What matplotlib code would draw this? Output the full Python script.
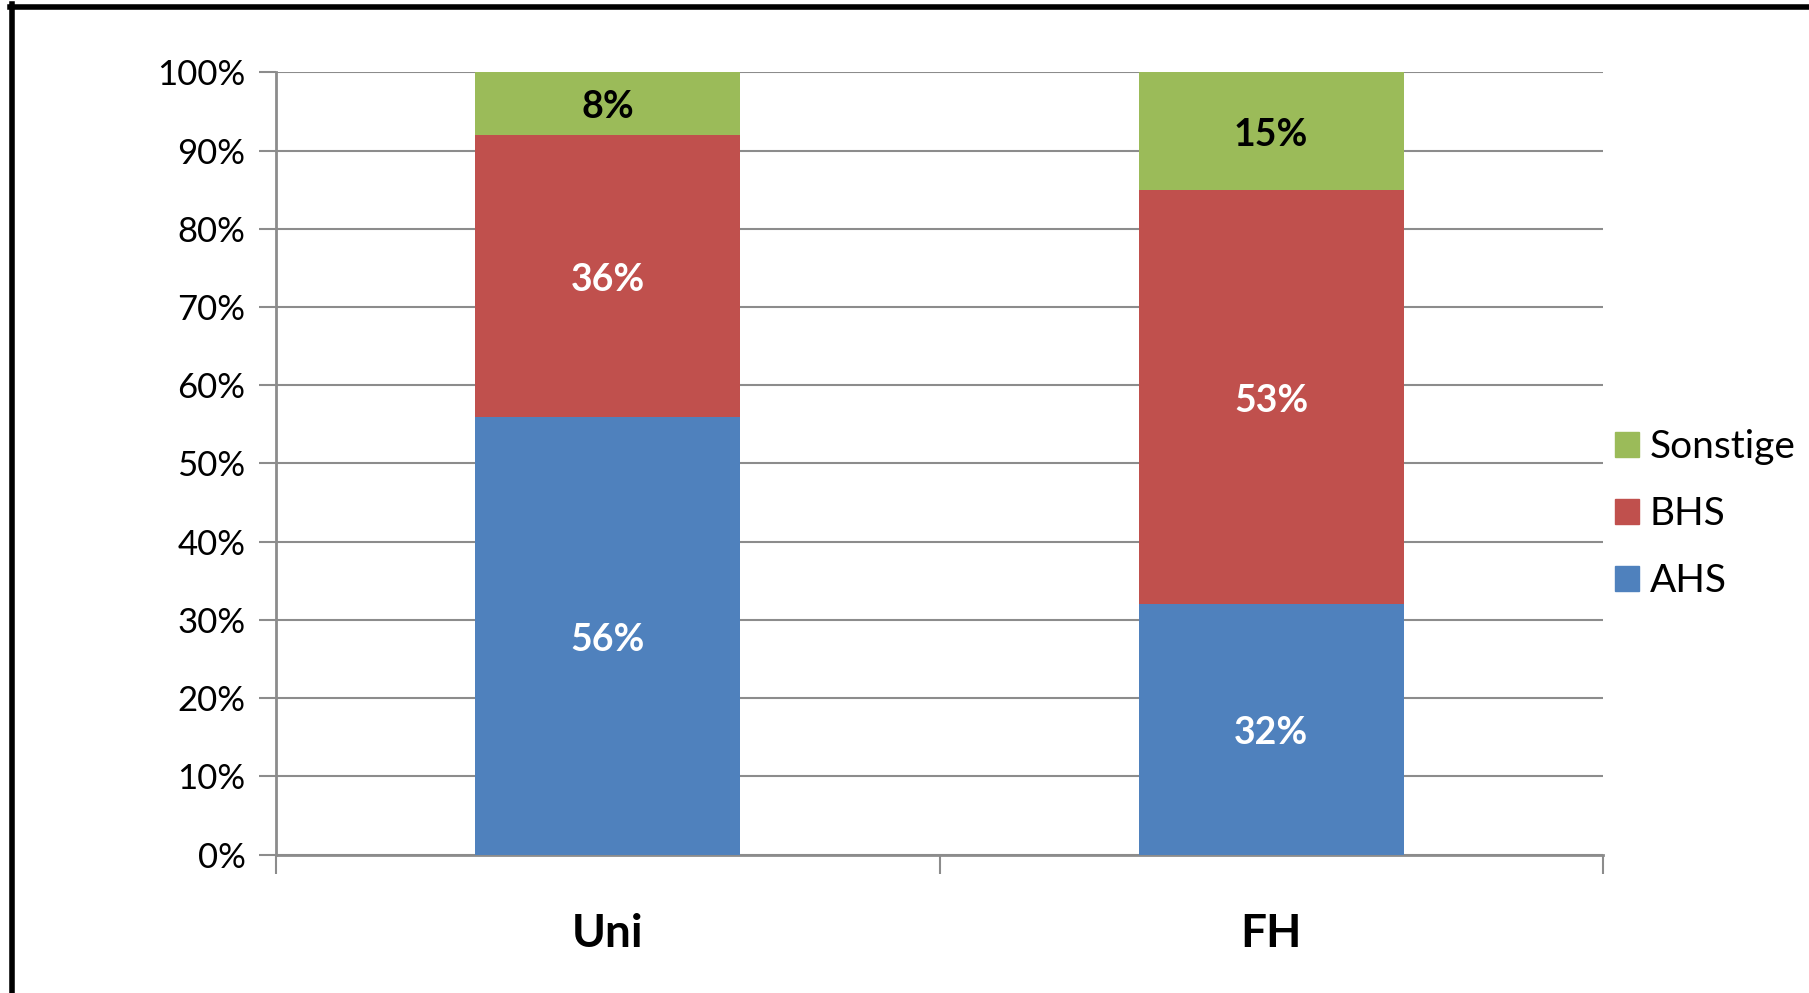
import matplotlib
matplotlib.use("Agg")
import matplotlib.pyplot as plt
from matplotlib.patches import Patch
from matplotlib.lines import Line2D
import numpy as np

plt.rcParams["font.family"] = ["Lato", "DejaVu Sans"]

categories = ["Uni", "FH"]
series = ["AHS", "BHS", "Sonstige"]
ahs = [56, 32]
bhs = [36, 53]
sonstige = [8, 15]
label_colors = ["white", "white", "black"]
colors = ["#4F81BD", "#C0504D", "#9BBB59"]

fig = plt.figure(figsize=(18.09, 9.93), dpi=100)
ax = fig.add_axes([0.1526, 0.1393, 0.7335, 0.7879])

x = np.arange(len(categories)) + 0.5
bottom = np.zeros(len(categories))
for name, vals, col, tcol in zip(series, [ahs, bhs, sonstige], colors, label_colors):
    vals = np.array(vals, dtype=float)
    ax.bar(x, vals, width=0.4, bottom=bottom, color=col, zorder=3)
    for xi, b, v in zip(x, bottom, vals):
        ax.text(xi, b + v / 2 - 0.5, f"{int(v)}%", ha="center", va="center",
                color=tcol, fontsize=27, fontweight="bold", zorder=4)
    bottom += vals

ax.set_xlim(0, 2)
ax.set_ylim(0, 100)
ax.set_yticks(range(0, 101, 10))
ax.set_yticklabels([f"{v}%" for v in range(0, 101, 10)], fontsize=25)
ax.yaxis.grid(True, color="#8c8c8c", linewidth=1.5, zorder=0)
ax.set_xticks([0, 1, 2])
ax.set_xticklabels([])
ax.tick_params(axis="x", length=14, width=1.5, color="#8c8c8c")
ax.tick_params(axis="y", length=12, width=1.5, color="#8c8c8c", pad=10)
for xi, c in zip(x, categories):
    ax.text(xi, -10.2, c, ha="center", va="center", fontsize=33,
            fontweight="bold", transform=ax.transData)

for s in ["top", "right"]:
    ax.spines[s].set_visible(False)
for s in ["left", "bottom"]:
    ax.spines[s].set_color("#8c8c8c")
    ax.spines[s].set_linewidth(2)

handles = [Patch(color=c) for c in colors][::-1]
fig.legend(handles, series[::-1], loc="center left",
           bbox_to_anchor=(0.8927, 0.482), frameon=False, fontsize=28,
           handlelength=0.62, handleheight=0.62, handletextpad=0.28,
           labelspacing=0.80, borderpad=0, borderaxespad=0)

# outer black frame (left and top edges only)
fig.add_artist(Line2D([12 / 1809, 12 / 1809], [0, 1 - 4 / 993],
                      transform=fig.transFigure, color="black", linewidth=4))
fig.add_artist(Line2D([10 / 1809, 1], [1 - 6.5 / 993, 1 - 6.5 / 993],
                      transform=fig.transFigure, color="black", linewidth=4))

fig.savefig("out.png", dpi=100)
